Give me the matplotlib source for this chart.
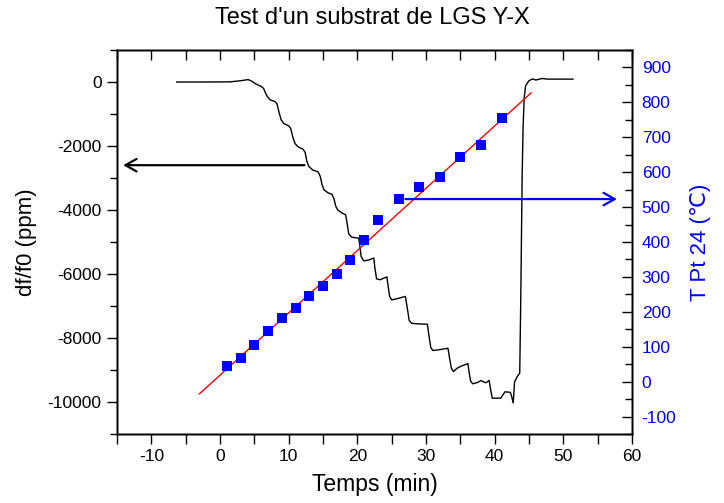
import matplotlib.pyplot as plt
from matplotlib.ticker import MultipleLocator, NullFormatter

plt.rcParams['font.family'] = ['Liberation Sans', 'DejaVu Sans']
plt.rcParams['axes.unicode_minus'] = False

# df/f0 (ppm) en fonction du temps (min)
temps_df = [-6.3, -2.0, 1.5, 3.0, 4.1, 4.6, 5.2, 6.0, 6.35, 6.6, 6.85, 7.3, 8.0,
            8.3, 8.6, 8.9, 9.3, 10.0, 10.3, 10.6, 10.95, 11.4, 12.1, 12.4, 12.65,
            12.95, 13.5, 14.3, 14.6, 14.85, 15.15, 15.7, 16.3, 16.6, 16.85, 17.15,
            17.8, 18.3, 18.5, 18.75, 19.2, 20.2, 20.35, 20.55, 20.95, 21.7, 22.4,
            22.55, 22.8, 23.3, 24.3, 24.5, 24.7, 25.0, 26.0, 27.0, 27.3, 27.55,
            27.9, 29.0, 30.2, 30.45, 30.7, 31.0, 31.8, 33.2, 33.45, 33.7, 34.0,
            34.5, 35.0, 36.1, 36.3, 36.5, 36.8, 37.5, 38.0, 38.7, 39.2, 39.4,
            39.65, 40.9, 41.5, 42.3, 42.5, 42.7, 42.9, 43.3, 43.65, 43.8, 44.0,
            44.13, 44.3, 44.5, 44.8, 45.0, 45.5, 46.0, 46.9, 47.7, 51.4]
df_f0 = [0, 0, 5, 40, 75, 30, -60, -140, -200, -330, -440, -560, -610,
         -680, -950, -1180, -1300, -1370, -1450, -1720, -1930, -2030, -2100, -2200, -2480,
         -2640, -2750, -2810, -2950, -3200, -3370, -3460, -3510, -3650, -3880, -4000,
         -4100, -4150, -4400, -4750, -4850, -4880, -5100, -5450, -5590, -5560, -5500,
         -5800, -6150, -6180, -6090, -6400, -6700, -6810, -6760, -6700, -7100, -7450,
         -7540, -7560, -7570, -7950, -8300, -8390, -8370, -8320, -8650, -8950, -9050,
         -8950, -8890, -8800, -9100, -9350, -9430, -9390, -9330, -9400, -9330, -9600,
         -9880, -9880, -9680, -9700, -9850, -10030, -9370, -9200, -9100, -6800, -3000,
         -1470, -500, -116, -20, 40, 94, 63, 110, 90, 90]

# temperature Pt 24
temps_T = [1, 3, 5, 7, 9, 11, 13, 15, 17, 19, 21, 23, 26, 29, 32, 35, 38, 41]
T_pt24 = [44, 69, 104, 146, 181, 210, 246, 275, 307, 348, 406, 464, 524, 557,
          587, 643, 678, 754]

# droite de regression (extremites)
fit_t = [-3.0, 45.3]
fit_T = [-35, 827]

fig = plt.figure(figsize=(7.24, 5.03), dpi=100)
ax = fig.add_axes([117/724, 1-434/503, 515/724, 384/503])
ax2 = ax.twinx()

ax.plot(temps_df, df_f0, color='black', lw=1.0)
ax2.plot(fit_t, fit_T, color='red', lw=1.0)
ax2.plot(temps_T, T_pt24, 's', color='blue', markersize=6.5, markeredgewidth=0)

ax.annotate('', xy=(-14.1, -2600), xytext=(12.3, -2600),
            arrowprops=dict(arrowstyle='->,head_length=0.8,head_width=0.45',
                            color='black', lw=1.6, shrinkA=0, shrinkB=0))
ax2.annotate('', xy=(57.8, 523), xytext=(27.0, 523),
             arrowprops=dict(arrowstyle='->,head_length=0.8,head_width=0.45',
                             color='blue', lw=1.6, shrinkA=0, shrinkB=0))

ax.set_xlim(-15, 60)
ax.set_ylim(-11000, 1000)
ax2.set_ylim(-150, 950)

ax.xaxis.set_major_locator(MultipleLocator(10))
ax.xaxis.set_minor_locator(MultipleLocator(5))
ax.yaxis.set_major_locator(MultipleLocator(2000))
ax.yaxis.set_minor_locator(MultipleLocator(1000))
ax2.yaxis.set_major_locator(MultipleLocator(100))
ax2.yaxis.set_minor_locator(MultipleLocator(50))

ax.tick_params(axis='x', which='both', direction='out', length=7, width=1,
               labelsize=12.5, pad=4, top=False)
ax.tick_params(axis='y', which='major', direction='out', length=7, width=1,
               labelsize=12.5, pad=4, right=False)
ax.tick_params(axis='y', which='minor', direction='out', length=5, width=1, right=False)
ax2.tick_params(axis='y', which='major', direction='in', length=7, width=1,
                labelsize=12.5, pad=7, colors='black', labelcolor='blue')
ax2.tick_params(axis='y', which='minor', direction='in', length=5, width=1)

# graduations du haut, vers l'interieur
ax3 = ax.twiny()
ax3.set_xlim(ax.get_xlim())
ax3.xaxis.set_major_locator(MultipleLocator(5))
ax3.xaxis.set_major_formatter(NullFormatter())
ax3.tick_params(axis='x', which='both', direction='in', length=7, width=1,
                top=True, bottom=False, labeltop=False)
ax3.yaxis.set_visible(False)

for a in [ax, ax2, ax3]:
    for sp in a.spines.values():
        sp.set_linewidth(1.0)

ax.set_xlabel('Temps (min)', fontsize=16.5, labelpad=6)
ax.set_ylabel('df/f0 (ppm)', fontsize=16, labelpad=8)
ax2.set_ylabel('T Pt 24 (℃)', fontsize=16, color='blue', labelpad=10)
fig.text(0.514, 0.964, "Test d'un substrat de LGS Y-X", fontsize=17, ha='center', va='center')

fig.savefig('out.png', dpi=100)
